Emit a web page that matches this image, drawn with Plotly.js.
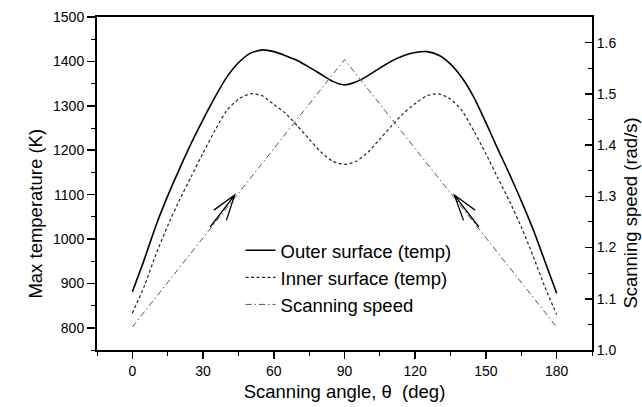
<!DOCTYPE html>
<html>
<head>
<meta charset="utf-8">
<script src="https://cdn.plot.ly/plotly-3.0.1.min.js"></script>
<style>html,body{margin:0;padding:0;background:#fff;}#chart{width:642px;height:407px;}</style>
</head>
<body>
<div id="chart"></div>
<script>
// Scanning angle (deg)
const angle = [0,5,10,15,20,25,30,35,40,45,50,55,60,65,70,75,80,85,90,
  95,100,105,110,115,120,125,130,135,140,145,150,155,160,165,170,175,180];
// Outer surface max temperature (K)
const outerTemp = [881,953,1030,1097,1158,1216,1269,1319,1364,1397,1418,1426,1422,1413,1402,1387,1371,1355,1347,
  1354,1368,1385,1401,1413,1420,1422,1414,1394,1362,1318,1262,1203,1146,1086,1022,950,878];
// Inner surface max temperature (K)
const innerTemp = [833,893,965,1030,1088,1141,1194,1244,1289,1315,1327,1323,1303,1283,1255,1225,1196,1175,1168,
  1175,1196,1225,1255,1283,1305,1323,1327,1315,1288,1242,1192,1138,1085,1027,962,892,830];
// Scanning speed (rad/s)
const speedAngle = [0, 90, 180];
const speed = [1.045, 1.567, 1.045];

const seriesNames = ["Outer surface (temp)", "Inner surface (temp)", "Scanning speed"];
const xTicks = [0, 30, 60, 90, 120, 150, 180];
const xTitle = 'Scanning angle, θ  (deg)';
const yTitle = 'Max temperature (K)';
const y2Title = 'Scanning speed (rad/s)';

// Arrow annotations: [tail, head, barb1, head, barb2] in (angle, K)
const arrowLeftX = [33, 43.4, 34.6, 43.4, 39.9];
const arrowLeftY = [1027, 1099, 1065, 1099, 1042];
const arrowRightX = [147, 136.6, 145.4, 136.6, 140.5];
const arrowRightY = [1027, 1099, 1065, 1099, 1042];

function pathOf(xs, ys){
  return xs.map((x,i)=>(i===0?'M':'L')+x+','+ys[i]).join(' ');
}

const FONT = "Liberation Sans, Arial, Helvetica, sans-serif";

const traces = [
  {x: angle, y: outerTemp, name: seriesNames[0], mode: 'lines', type: 'scatter',
   line: {color: '#000', width: 1.6, shape: 'spline', smoothing: 0.6}},
  {x: angle, y: innerTemp, name: seriesNames[1], mode: 'lines', type: 'scatter',
   line: {color: '#222', width: 1.2, dash: '3px,2.5px', shape: 'spline', smoothing: 0.6}},
  {x: speedAngle, y: speed, name: seriesNames[2], mode: 'lines', type: 'scatter', yaxis: 'y2',
   line: {color: '#555', width: 1, dash: '6px,3px,1.5px,3px'}}
];

const layout = {
  width: 642, height: 407,
  margin: {l: 97, r: 50, t: 17, b: 57},
  paper_bgcolor: '#fff', plot_bgcolor: '#fff',
  font: {family: FONT, color: '#000', size: 14},
  showlegend: true,
  legend: {x: 0.29, y: 0.355, xanchor: 'left', yanchor: 'top', bgcolor: 'rgba(0,0,0,0)',
           font: {family: FONT, size: 18.5, color: '#000'}, tracegroupgap: 0},
  xaxis: {
    range: [-15, 195], tickvals: xTicks, ticktext: xTicks.map(String),
    showgrid: false, zeroline: false, showline: true, linecolor: '#000', linewidth: 2,
    mirror: true, ticks: 'outside', ticklen: 7, tickwidth: 1.5, tickcolor: '#000',
    minor: {dtick: 15, tick0: -15, ticks: 'outside', ticklen: 4, tickwidth: 1, tickcolor: '#000'},
    tickfont: {family: FONT, size: 14},
    title: {text: xTitle, font: {family: FONT, size: 18.5}, standoff: 7}
  },
  yaxis: {
    range: [750, 1500], tick0: 800, dtick: 100,
    showgrid: false, zeroline: false, showline: true, linecolor: '#000', linewidth: 2,
    ticks: 'outside', ticklen: 8, tickwidth: 1.5, tickcolor: '#000',
    minor: {dtick: 50, tick0: 750, ticks: 'outside', ticklen: 4, tickwidth: 1, tickcolor: '#000'},
    tickfont: {family: FONT, size: 14}
  },
  yaxis2: {
    overlaying: 'y', side: 'right', range: [1.0, 1.65], tick0: 1.0, dtick: 0.1, tickformat: '.1f',
    showgrid: false, zeroline: false, showline: true, linecolor: '#000', linewidth: 2,
    ticks: 'inside', ticklen: 7, tickwidth: 1.5, tickcolor: '#000',
    minor: {dtick: 0.05, tick0: 1.0, ticks: 'inside', ticklen: 4, tickwidth: 1, tickcolor: '#000'},
    tickfont: {family: FONT, size: 14}
  },
  annotations: [
    {text: yTitle, xref: 'paper', yref: 'paper', x: -0.125, y: 0.41, textangle: -90,
     showarrow: false, xanchor: 'center', yanchor: 'middle', font: {family: FONT, size: 18.5}},
    {text: y2Title, xref: 'paper', yref: 'paper', x: 1.077, y: 0.41, textangle: -90,
     showarrow: false, xanchor: 'center', yanchor: 'middle', font: {family: FONT, size: 18.5}}
  ],
  shapes: [
    {type: 'path', xref: 'x', yref: 'y', path: pathOf(arrowLeftX, arrowLeftY), line: {color: '#000', width: 1.3}},
    {type: 'path', xref: 'x', yref: 'y', path: pathOf(arrowRightX, arrowRightY), line: {color: '#000', width: 1.3}}
  ]
};

Plotly.newPlot('chart', traces, layout, {staticPlot: true, displayModeBar: false});
</script>
</body>
</html>
